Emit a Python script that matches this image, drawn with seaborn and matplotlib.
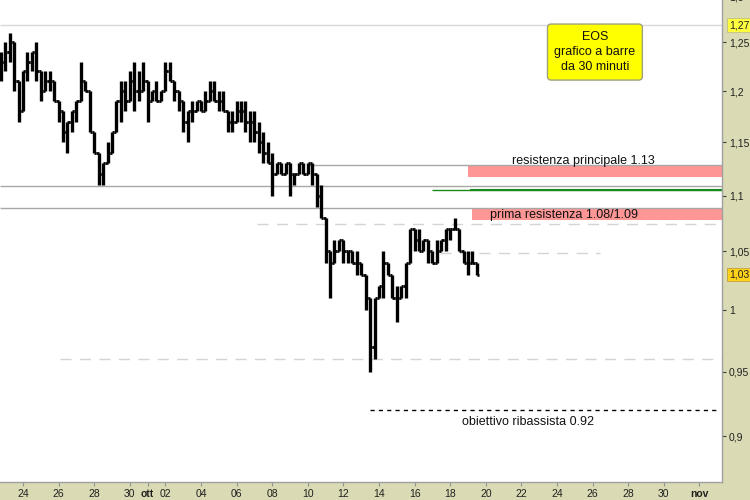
import pandas as pd
import matplotlib
matplotlib.use('Agg')
import matplotlib.pyplot as plt
from matplotlib.ticker import FixedLocator, FixedFormatter, NullLocator
import seaborn as sns

# EOS, barre aggregate a 6 ore (prezzi in centesimi)
bar_start = '2022-09-22 18:00'
high = [124, 125, 126, 125, 121, 122, 124, 124, 125, 122, 122, 122, 121, 119, 118, 117,
        118, 119, 123, 121, 120, 116, 114, 113, 115, 116, 119, 121, 121, 122, 123, 122,
        123, 121, 120, 121, 120, 123, 123, 121, 120, 119, 118, 119, 119, 119, 120, 121,
        121, 120, 120, 118, 118, 119, 119, 119, 118, 118, 117, 116, 115, 114, 113, 113,
        113, 113, 112, 113, 113, 113, 113, 112, 111, 108, 105, 106, 106, 106, 105, 105,
        105, 104, 103, 101, 101, 102, 105, 104, 103, 102, 102, 104, 107, 107, 107, 106,
        106, 105, 106, 106, 107, 107, 108, 107, 105, 105, 105, 104]
low = [121, 122, 123, 120, 117, 118, 121, 122, 121, 119, 120, 120, 119, 117, 115, 114,
       116, 117, 119, 120, 116, 114, 111, 111, 113, 114, 116, 117, 118, 119, 118, 119,
       120, 117, 119, 119, 119, 120, 121, 119, 118, 116, 115, 117, 118, 118, 118, 119,
       119, 118, 118, 116, 116, 117, 117, 116, 115, 115, 114, 113, 113, 110, 112, 112,
       112, 110, 111, 112, 112, 112, 111, 109, 108, 104, 101, 104, 105, 104, 104, 104,
       103, 103, 100, 95, 96, 101, 101, 103, 101, 99, 101, 101, 104, 105, 105, 105,
       104, 104, 104, 105, 105, 106, 107, 105, 104, 103, 104, 103]
close = [123, 124, 125, 121, 118, 122, 123, 124, 122, 120, 121, 121, 119, 118, 116, 117,
         118, 119, 121, 120, 116, 114, 112, 113, 114, 116, 119, 120, 119, 121, 120, 120,
         121, 119, 120, 119, 120, 122, 121, 120, 119, 117, 118, 118, 119, 118, 119, 120,
         119, 119, 118, 117, 117, 118, 118, 117, 117, 116, 115, 114, 113, 112, 113, 112,
         113, 112, 112, 113, 112, 113, 112, 110, 108, 105, 104, 105, 106, 105, 105, 104,
         104, 103, 101, 97, 101, 102, 104, 103, 101, 101, 102, 104, 107, 106, 105, 106,
         105, 104, 105, 106, 107, 107, 107, 105, 104, 104, 104, 103]

yticks = [0.9, 0.95, 1.0, 1.05, 1.1, 1.15, 1.2, 1.25]
ytick_labels = ['0,9', '0,95', '1', '1,05', '1,1', '1,15', '1,2', '1,25']
xtick_dates = ['2022-09-24', '2022-09-26', '2022-09-28', '2022-09-30', '2022-10-01',
               '2022-10-02', '2022-10-04', '2022-10-06', '2022-10-08', '2022-10-10',
               '2022-10-12', '2022-10-14', '2022-10-16', '2022-10-18', '2022-10-20',
               '2022-10-22', '2022-10-24', '2022-10-26', '2022-10-28', '2022-10-30',
               '2022-11-01']
xtick_labels = ['24', '26', '28', '30', 'ott', '02', '04', '06', '08', '10', '12', '14',
                '16', '18', '20', '22', '24', '26', '28', '30', 'nov']

df = pd.DataFrame({'t': pd.date_range(bar_start, periods=len(high), freq='6h'),
                   'high': high, 'low': low, 'close': close})
df[['high', 'low', 'close']] = df[['high', 'low', 'close']] / 100
df['open'] = df['close'].shift(1).fillna(1.22)

sns.set_style('white')
plt.rcParams['font.family'] = ['Liberation Sans', 'DejaVu Sans']

fig = plt.figure(figsize=(7.5, 5), dpi=100)
fig.patch.set_facecolor('#dadab4')
ax = fig.add_axes([0, 18 / 500, 722 / 750, 482 / 500])
ax.set_facecolor('white')

t0 = pd.Timestamp('2022-09-22 17:00')
t1 = pd.Timestamp('2022-11-02 06:30')

# livelli
ax.hlines(1.268, t0, t1, color='#d8d8d8', lw=1)
ax.hlines(1.109, t0, t1, color='#a8a8a8', lw=1)
ax.hlines(1.0887, t0, t1, color='#a8a8a8', lw=1)
ax.hlines(1.128, pd.Timestamp('2022-10-10 02:00'), t1, color='#a8a8a8', lw=1)
ax.hlines(1.105, pd.Timestamp('2022-10-17 00:00'), t1, color='#1a8a1a', lw=1)
ax.hlines(1.105, pd.Timestamp('2022-10-19 03:00'), t1, color='#1a8a1a', lw=1.5)
ax.fill_between([pd.Timestamp('2022-10-19 00:00'), t1], 1.117, 1.128, color='#ff9696', lw=0)
ax.fill_between([pd.Timestamp('2022-10-19 06:00'), t1], 1.078, 1.088, color='#ff9696', lw=0)
ax.hlines(1.0743, pd.Timestamp('2022-10-07 03:00'), t1, color='#d4d4d4', lw=1, linestyles=(0, (8, 6)))
ax.hlines(1.0486, pd.Timestamp('2022-10-17 10:00'), pd.Timestamp('2022-10-26 10:00'),
          color='#d4d4d4', lw=1, linestyles=(0, (8, 6)))
ax.hlines(0.960, pd.Timestamp('2022-09-26 02:00'), t1, color='#d4d4d4', lw=1, linestyles=(0, (8, 6)))
ax.hlines(0.920, pd.Timestamp('2022-10-13 12:00'), pd.Timestamp('2022-11-02 01:00'),
          color='black', lw=1, linestyles=(0, (3, 3)))

# barre
half = pd.Timedelta(hours=3)
ax.vlines(df['t'], df['low'], df['high'], color='black', lw=2.4)
ax.hlines(df['open'], df['t'] - half, df['t'], color='black', lw=2.0)
ax.hlines(df['close'], df['t'], df['t'] + half, color='black', lw=2.0)

# testi
ax.text(pd.Timestamp('2022-10-25 11:00'), 1.1322, 'resistenza principale 1.13',
        ha='center', va='center', fontsize=9, color='#111111')
ax.text(pd.Timestamp('2022-10-24 09:00'), 1.0824, 'prima resistenza 1.08/1.09',
        ha='center', va='center', fontsize=9, color='#111111')
ax.text(pd.Timestamp('2022-10-22 09:00'), 0.9109, 'obiettivo ribassista 0.92',
        ha='center', va='center', fontsize=9, color='#111111')
ax.text(0.824, 0.892, 'EOS\ngrafico a barre\nda 30 minuti', transform=ax.transAxes,
        ha='center', va='center', fontsize=9, linespacing=1.35, color='#111111',
        bbox=dict(boxstyle='round,pad=0.55,rounding_size=0.3', fc='#ffff00', ec='#a0a080', lw=1))

ax.set_yscale('log')
ax.set_ylim(0.86647, 1.29476)
ax.set_xlim(t0, t1)
ax.yaxis.set_major_locator(FixedLocator(yticks))
ax.yaxis.set_major_formatter(FixedFormatter(ytick_labels))
ax.yaxis.set_minor_locator(NullLocator())
ax.set_xticks(pd.to_datetime(xtick_dates))
ax.set_xticklabels(xtick_labels)
ax.tick_params(axis='y', left=False, right=True, labelleft=False, labelright=True,
               length=3, width=0.8, color='#404040', pad=2, labelsize=7.5, labelcolor='#202020')
ax.tick_params(axis='x', bottom=True, length=3, width=0.8, color='#909090', pad=2,
               labelsize=7.5, labelcolor='#202020')
for lab in ax.get_xticklabels():
    if lab.get_text() in ('ott', 'nov'):
        lab.set_fontweight('bold')

for side in ('top', 'left'):
    ax.spines[side].set_visible(False)
for side in ('right', 'bottom'):
    ax.spines[side].set_color('#a0a0a0')
    ax.spines[side].set_linewidth(1)

# etichette prezzo evidenziate
ax.annotate('1,27', xy=(1, 1.268), xycoords=('axes fraction', 'data'), xytext=(5, 0),
            textcoords='offset points', va='center', fontsize=7.5, color='#202020',
            bbox=dict(boxstyle='square,pad=0.15', fc='#ffff40', ec='#c0c080', lw=0.6))
ax.annotate('1,03', xy=(1, 1.03), xycoords=('axes fraction', 'data'), xytext=(5, 0),
            textcoords='offset points', va='center', fontsize=7.5, color='#202020',
            bbox=dict(boxstyle='square,pad=0.15', fc='#ffd21a', ec='#c0a040', lw=0.6))
ax.annotate('1,3', xy=(1, 1.297), xycoords=('axes fraction', 'data'), xytext=(5, 0),
            textcoords='offset points', va='center', fontsize=7.5, color='#202020',
            annotation_clip=False)

fig.savefig('out.png', dpi=100, facecolor=fig.get_facecolor())
